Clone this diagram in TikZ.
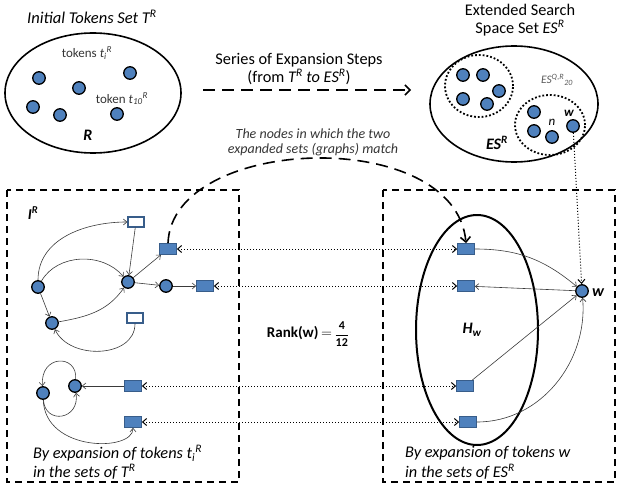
\documentclass[tikz,border=0pt]{standalone}
\usepackage{fontspec}
\setmainfont{Carlito}
\usetikzlibrary{arrows.meta}
\definecolor{tokblue}{HTML}{4F81BD}
\definecolor{tokedge}{HTML}{385D8A}
\definecolor{linkgray}{HTML}{3A3A3A}
\definecolor{labelgray}{HTML}{595959}
\newcommand{\fs}[1]{\fontsize{#1}{#1}\selectfont}
% letter with a subscript followed by a superscript
\newcommand{\subsup}[3]{#1\textsubscript{#2}\textsuperscript{#3}}
\begin{document}
\begin{tikzpicture}[x=1pt,y=-1pt,
  tok/.style={circle, fill=tokblue, draw=black, line width=1.3pt, minimum size=12.5pt, inner sep=0pt},
  fbox/.style={rectangle, fill=tokblue, draw=tokedge, line width=0.8pt, minimum width=17pt, minimum height=11pt, inner sep=0pt},
  obox/.style={rectangle, fill=white, draw=tokedge, line width=1.4pt, minimum width=16pt, minimum height=10pt, inner sep=0pt},
  link/.style={draw=linkgray, line width=0.6pt, -{Straight Barb[length=3.5pt,width=6pt]}},
  matchlink/.style={dotted, line width=1pt, {Straight Barb[length=4pt,width=7pt]}-{Straight Barb[length=4pt,width=7pt]}},
  setline/.style={line width=1.6pt},
  innerset/.style={dotted, line width=1.8pt},
  frame/.style={line width=2pt, dash pattern=on 7pt off 5pt},
  txt/.style={inner sep=0pt, font=\fs{16.3}},
  captext/.style={inner sep=0pt, font=\fs{16.3}\itshape, anchor=west}
]
\useasboundingbox (0,0) rectangle (617,489);

% ---- initial token set ----
\draw[setline] (93,93) ellipse [x radius=88pt, y radius=60pt];
\node[txt, font=\fs{16.5}\itshape] (ttl) at (92,17) {Initial Tokens Set T\textsuperscript{R}};
\node[txt, font=\fs{13}, text=labelgray!60!black] (tki) at (87,53) {tokens \textit{\subsup{t}{i}{R}}};
\node[txt, font=\fs{13}, text=labelgray!60!black] (tkx) at (122,99) {token \textit{\subsup{t}{10}{R}}};
\node[txt, font=\fs{16}\bfseries\itshape] (rlab) at (88,135) {R};
\foreach \n/\p in {t1/{(39,78)}, t2/{(79,88)}, t3/{(130,73)}, t4/{(33,107)}, t5/{(60,115)}, t6/{(117,114)}}
  \node[tok] (\n) at \p {};

% ---- expansion arrow ----
\coordinate (xs) at (203,90);
\coordinate (xe) at (411,90);
\draw[line width=1.5pt, dash pattern=on 12pt off 7pt, -{Straight Barb[length=5pt,width=10pt]}] (xs) -- (xe);
\node[txt] (ser1) at (299,60) {Series of Expansion Steps};
\node[txt] (ser2) at (299,77) {(from \textit{T\textsuperscript{R}} \textit{to ES\textsuperscript{R}})};

% ---- extended search space set ----
\node[txt] (ext1) at (520,10) {Extended Search};
\node[txt] (ext2) at (520,28) {Space Set \textit{ES\textsuperscript{R}}};
\draw[setline] (514,104) ellipse [x radius=84pt, y radius=58pt];
\draw[innerset] (479,86) ellipse [x radius=34pt, y radius=31pt];
\draw[innerset] (550,125) ellipse [x radius=35pt, y radius=30pt];
\foreach \n/\p in {e1/{(463,75)}, e2/{(483,75)}, e3/{(499,91)}, e4/{(463,99)}, e5/{(487,104)},
                   f1/{(534,112)}, f2/{(534,131)}, f3/{(552,137)}, wtop/{(573,126)}}
  \node[tok] (\n) at \p {};
\node[txt, font=\fs{11.5}\itshape, text=labelgray] (esq) at (557,80) {ES\textsuperscript{Q,R}\textsubscript{20}};
\node[txt, font=\fs{13}\itshape] (nlab) at (552,122) {n};
\node[txt, font=\fs{13}\bfseries\itshape] (wlab) at (569,113) {w};
\node[txt, font=\fs{16}\bfseries\itshape] (eslab) at (497,143) {ES\textsuperscript{R}};

% ---- caption of the matching link ----
\node[txt, font=\fs{14}\itshape, text=labelgray!60!black] (mc1) at (313,134) {The nodes in which the two};
\node[txt, font=\fs{14}\itshape, text=labelgray!60!black] (mc2) at (313,150) {expanded sets (graphs) match};

% ---- the two expansion frames ----
\draw[frame] (7,190) rectangle (239,482);
\draw[frame] (383,190) rectangle (615,482);
\draw[line width=2pt] (477,330) ellipse [x radius=61pt, y radius=115pt];

\node[txt, font=\fs{15}\bfseries\itshape] (ilab) at (33,213) {I\textsuperscript{R}};
\node[txt, font=\fs{16}\bfseries\itshape] (hlab) at (472,330) {H\textsubscript{w}};

% left graph
\node[obox] (A) at (136,222) {};
\node[fbox] (B) at (168,249) {};
\node[tok]  (C) at (128,282) {};
\node[tok]  (D) at (166,286) {};
\node[fbox] (E) at (205,286) {};
\node[tok]  (F) at (38,287) {};
\node[tok]  (G) at (52,323) {};
\node[obox] (H) at (135,318) {};
\node[tok]  (J) at (43,393) {};
\node[tok]  (K) at (75,386) {};
\node[fbox] (L) at (133,386) {};
\node[fbox] (M) at (133,422) {};

\draw[link] (F) to[out=90,in=180] (A);
\draw[link] (A) -- (C);
\draw[link] (F) to[out=60,in=130] (C);
\draw[link] (F) -- (G);
\draw[link] (G) to[out=10,in=235] (C);
\draw[link] (H) to[out=-90,in=-65,looseness=1.1] (G);
\draw[link] (C) -- (B);
\draw[link] (C) -- (D);
\draw[link] (D) -- (E);
\draw[link] (K) .. controls (78,354) and (40,354) .. (J);
\draw[link] (J) .. controls (45,425) and (80,420) .. (K);
\draw[link] (L) -- (K);
\draw[link] (J) .. controls (45,452) and (133,452) .. (M);

% right graph
\node[fbox] (R1) at (466,249) {};
\node[fbox] (R2) at (466,286) {};
\node[fbox] (R3) at (465,386) {};
\node[fbox] (R4) at (468,422) {};
\node[tok]  (W)  at (582,291) {};
\node[txt, font=\fs{16}\bfseries\itshape, anchor=west] (wname) at (592,293) {w};

\draw[link] (R1) to[out=0,in=140] (W);
\draw[link] (W) -- (R2);
\draw[link] (R3) -- (W);
\draw[link] (R4) to[out=0,in=-85] (W);

\draw[dotted, line width=1pt, -{Straight Barb[length=4pt,width=7pt]}] (wtop) -- (W);

% matching links
\draw[matchlink] (B) -- (R1);
\draw[matchlink] (E) -- (R2);
\draw[matchlink] (L) -- (R3);
\draw[matchlink] (M) -- (R4);
\draw[line width=1.6pt, dash pattern=on 12pt off 7pt, -{Straight Barb[length=5pt,width=10pt]}]
  (B.north) .. controls (172,135) and (455,125) .. (R1.north);

% rank
\node[txt, font=\fs{15}] (rank) at (308,334) {\textbf{Rank(w)}\,$=$\,{\fs{12}$\displaystyle\frac{\mathbf{4}}{\mathbf{12}}$}};

% captions
\node[captext] (lc1) at (33,453) {By expansion of tokens \subsup{t}{i}{R}};
\node[captext] (lc2) at (33,472) {in the sets of T\textsuperscript{R}};
\node[captext] (rc1) at (405,453) {By expansion of tokens w};
\node[captext] (rc2) at (405,472) {in the sets of ES\textsuperscript{R}};
\end{tikzpicture}
\end{document}
